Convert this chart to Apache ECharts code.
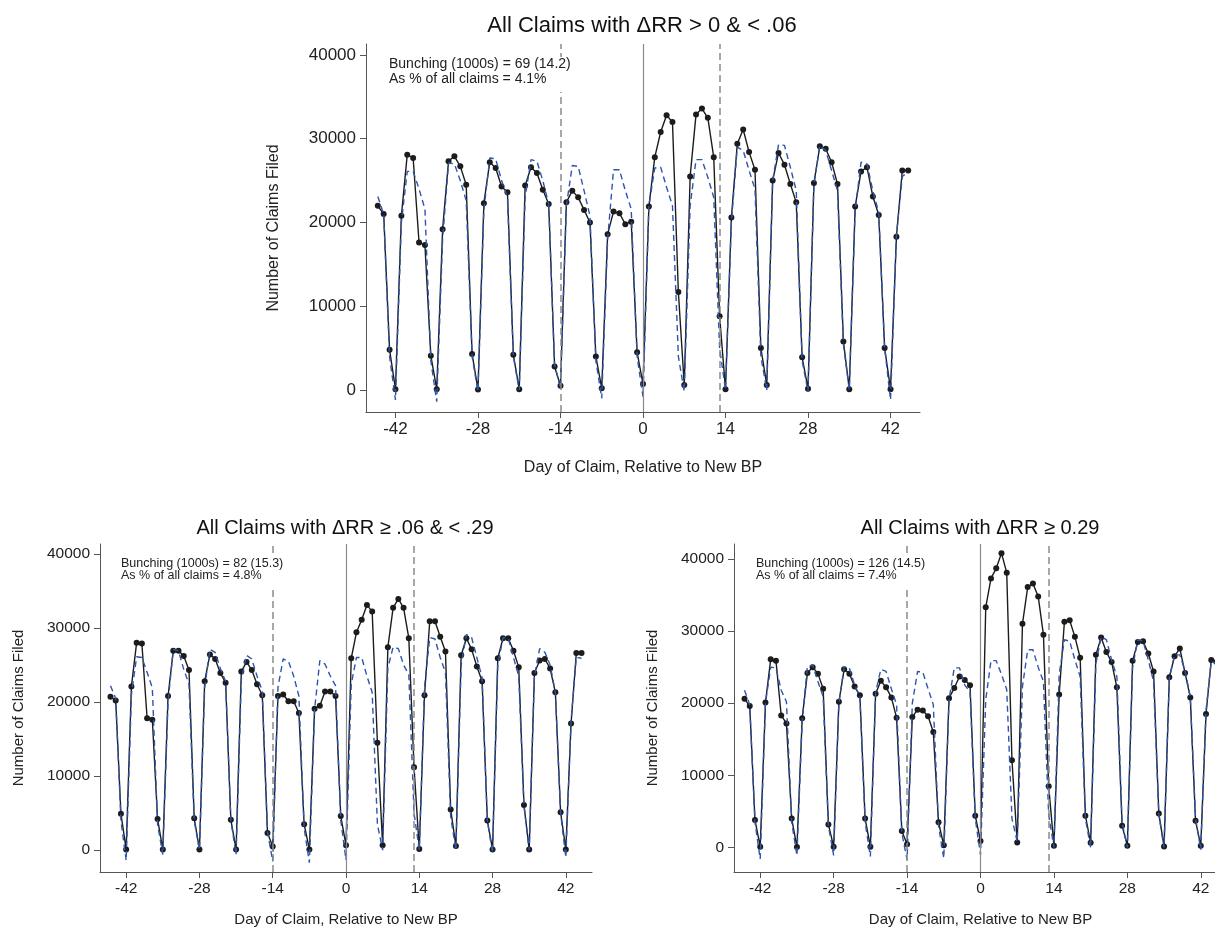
<!DOCTYPE html>
<html><head><meta charset="utf-8">
<script src="https://cdn.jsdelivr.net/npm/echarts@6/dist/echarts.min.js"></script>
<style>html,body{margin:0;padding:0;background:#fff}#c{width:1215px;height:929px}</style>
</head><body><div id="c"></div>
<script>
const days = [-45,-44,-43,-42,-41,-40,-39,-38,-37,-36,-35,-34,-33,-32,-31,-30,-29,-28,-27,-26,-25,-24,-23,-22,-21,-20,-19,-18,-17,-16,-15,-14,-13,-12,-11,-10,-9,-8,-7,-6,-5,-4,-3,-2,-1,0,1,2,3,4,5,6,7,8,9,10,11,12,13,14,15,16,17,18,19,20,21,22,23,24,25,26,27,28,29,30,31,32,33,34,35,36,37,38,39,40,41,42,43,44,45];
const xTicks = [-42,-28,-14,0,14,28,42];
const yTicks = [0,10000,20000,30000,40000];
const refLinesDashed = [-14,13];
const refLineSolid = [0];

const titleTexts = ['All Claims with \u0394RR > 0 & < .06', 'All Claims with \u0394RR \u2265 .06 & < .29', 'All Claims with \u0394RR \u2265 0.29'];
const noteTexts = [
  'Bunching (1000s) = 69 (14.2)\nAs % of all claims = 4.1%',
  'Bunching (1000s) = 82 (15.3)\nAs % of all claims = 4.8%',
  'Bunching (1000s) = 126 (14.5)\nAs % of all claims = 7.4%'
];
const xName = 'Day of Claim, Relative to New BP';
const yName = 'Number of Claims Filed';

// Panel A: dRR > 0 & < .06
const actualA = [22000,21000,4800,100,
 20800,28100,27700,17600,17300,4100,100,
 19200,27300,27900,26700,24500,4300,50,
 22300,27200,26500,24300,23600,4200,100,
 24400,26600,25900,23900,22200,2800,500,
 22400,23800,23000,21500,20000,4000,200,
 18600,21300,21100,19800,20100,4500,700,
 21900,27800,30800,32800,32000,11700,600,
 25500,32900,33600,32500,27800,8800,100,
 20600,29400,31100,28400,26300,5000,600,
 25000,28300,26900,24600,22400,3900,150,
 24700,29100,28800,27200,24600,5800,100,
 21900,26100,26600,23100,20900,5000,100,
 18300,26200,26200];
const predA = [23100,21000,4000,-1200,
 20000,26100,26100,24000,21600,3500,-1400,
 18000,27100,27000,25000,22600,4000,-200,
 21500,27700,27600,25000,23000,4000,0,
 23000,27500,27300,25000,22200,3000,200,
 22000,26800,26700,23800,20800,3500,-1000,
 18000,26300,26300,23800,21600,4000,-800,
 22000,26500,26600,24200,22000,4000,-200,
 22000,27500,27500,25400,23000,5000,0,
 20000,29000,28600,26200,24000,4000,0,
 25000,29300,29200,26600,23800,3500,-200,
 24500,29200,28600,26200,23800,5500,0,
 21500,27200,27000,23800,21200,5000,-1200,
 18500,25500,26000];

// Panel B: dRR >= .06 & < .29
const actualB = [20700,20200,4900,100,
 22100,28000,27900,17800,17600,4200,100,
 20800,26900,26900,26200,24300,4300,100,
 22800,26400,25800,23900,22600,4100,100,
 24100,25400,24300,22400,20900,2300,500,
 20800,21000,20100,20100,18500,3500,100,
 19100,19500,21400,21400,20800,4600,650,
 25900,29400,31100,33100,32200,14500,650,
 27400,32700,33900,32700,28600,11200,150,
 20900,30900,30900,28800,26800,5500,550,
 26300,28600,27100,24800,22800,4000,100,
 25900,28600,28600,26900,24700,6100,100,
 23900,25600,25800,24500,21300,5100,100,
 17100,26600,26600];
const predB = [22200,20500,4000,-1400,
 21000,26100,26000,24000,21900,3500,-600,
 20000,27100,26900,24400,22400,4000,0,
 22000,27100,26700,24500,22800,4000,-600,
 23000,26300,25800,23500,21500,2500,-1500,
 22000,25800,25500,23500,20800,3000,-1700,
 19000,25600,25100,23500,22200,4000,-1300,
 22400,26000,26000,23500,21300,3500,0,
 24600,27400,27200,25000,23700,5000,0,
 22000,28700,28500,26000,24000,4500,0,
 25000,29100,28700,26000,23300,4000,-400,
 25000,28700,28600,26000,23500,6000,0,
 23500,27200,26700,25000,21300,5000,-1000,
 17500,26000,25900];

// Panel C: dRR >= 0.29
const actualC = [20600,19600,3800,100,
 20100,26100,25900,18300,17200,4000,50,
 17900,24200,25000,24100,22000,3200,100,
 20200,24700,24100,22300,21100,4000,100,
 21300,23100,22200,20800,18000,2300,450,
 18100,19100,19000,18200,16000,3500,300,
 20700,22100,23700,23200,22500,4400,900,
 33300,37300,38700,40800,38100,12100,700,
 31000,36100,36600,34800,29500,8500,250,
 21200,31300,31500,29200,26300,4400,650,
 26700,29100,27100,25700,22200,3000,250,
 25900,28500,28600,26900,24400,4700,150,
 23600,26500,27600,24200,20800,3700,250,
 18500,26000,25700];
const predC = [21800,19800,3500,-1600,
 20000,25000,24900,21800,20200,3500,-1150,
 17500,25100,25300,23000,20900,3000,-1100,
 20000,25000,24850,22500,20900,3500,-1250,
 21500,24700,24400,22000,19800,2000,-1700,
 20000,24400,24300,22000,19800,3000,-1500,
 20500,24900,24900,22500,21600,4000,-1000,
 20500,25900,25900,24000,21900,4000,800,
 22300,27400,27400,25000,23000,4500,0,
 24000,28800,28600,26000,23700,4000,0,
 25500,29200,28800,26000,23700,3500,0,
 25000,28800,28600,26000,23000,4500,0,
 23500,26700,26700,24500,20900,4000,-300,
 19000,25800,25500];

const actuals = [actualA, actualB, actualC];
const preds = [predA, predB, predC];

// layout (pixels)
const panels = [
  {left:366, top:44, width:554, height:368, ymin:-2630, ymax:41310, tickFont:17, nameFont:16, titleFont:22, titleX:642, titleY:26, noteX:389, noteY:57, noteFont:14, noteLH:14.5, notePadB:6, xNameGap:48, yNameGap:84},
  {left:100, top:544, width:492, height:328, ymin:-2950, ymax:41320, tickFont:15.5, nameFont:15, titleFont:20, titleX:345, titleY:528, noteX:121, noteY:557, noteFont:12.5, noteLH:12.5, notePadB:7, xNameGap:40, yNameGap:74},
  {left:734, top:544, width:493, height:328, ymin:-3400, ymax:42070, tickFont:15.5, nameFont:15, titleFont:20, titleX:980, titleY:528, noteX:756, noteY:557, noteFont:12.5, noteLH:12.5, notePadB:7, xNameGap:40, yNameGap:74}
];

const FONT = "'Liberation Sans', Arial, sans-serif";
const AXIS_COLOR = '#555555';
const TEXT_COLOR = '#222222';
const BLACK = '#1c1c1c';
const BLUE = '#2d55ad';
const REF = '#8a8a8a';
const plain = v => String(v);

const grid = [], xAxis = [], yAxis = [], series = [], graphic = [];
panels.forEach((p, i) => {
  grid.push({left:p.left, top:p.top, width:p.width, height:p.height, outerBoundsMode:'none', containLabel:false});
  xAxis.push({
    type:'value', gridIndex:i, min:-47, max:47,
    name:xName, nameLocation:'middle', nameGap:p.xNameGap,
    nameTextStyle:{fontFamily:FONT, fontSize:p.nameFont, color:TEXT_COLOR},
    axisLine:{onZero:false, lineStyle:{color:AXIS_COLOR, width:1}},
    axisTick:{show:true, customValues:xTicks, length:6, lineStyle:{color:AXIS_COLOR}},
    axisLabel:{customValues:xTicks, formatter:plain, fontFamily:FONT, fontSize:p.tickFont, color:TEXT_COLOR, margin:9},
    splitLine:{show:false}
  });
  yAxis.push({
    type:'value', gridIndex:i, min:p.ymin, max:p.ymax,
    name:yName, nameLocation:'middle', nameGap:p.yNameGap,
    nameTextStyle:{fontFamily:FONT, fontSize:p.nameFont, color:TEXT_COLOR},
    axisLine:{show:true, onZero:false, lineStyle:{color:AXIS_COLOR, width:1}},
    axisTick:{show:true, customValues:yTicks, length:6, lineStyle:{color:AXIS_COLOR}},
    axisLabel:{customValues:yTicks, formatter:plain, fontFamily:FONT, fontSize:p.tickFont, color:TEXT_COLOR, margin:10},
    splitLine:{show:false}
  });
  const black = days.map((d, k) => [d, actuals[i][k]]);
  const blue = days.map((d, k) => [d, preds[i][k]]);
  series.push({
    type:'line', xAxisIndex:i, yAxisIndex:i, data:black, symbol:'none', silent:true,
    lineStyle:{opacity:0}, z:1,
    markLine:{
      silent:true, symbol:['none','none'], label:{show:false}, animation:false,
      data:[
        ...refLinesDashed.map(v => ({xAxis:v, lineStyle:{color:REF, width:1.5, type:[7,4]}})),
        ...refLineSolid.map(v => ({xAxis:v, lineStyle:{color:REF, width:1.2, type:'solid'}}))
      ]
    }
  });
  series.push({
    type:'line', xAxisIndex:i, yAxisIndex:i, data:black,
    symbol:'circle', symbolSize:6, itemStyle:{color:BLACK},
    lineStyle:{color:BLACK, width:1.4}, z:3
  });
  series.push({
    type:'line', xAxisIndex:i, yAxisIndex:i, data:blue,
    symbol:'none', lineStyle:{color:BLUE, width:1.4, type:[6,4]}, z:4
  });
  graphic.push({
    type:'text', x:p.titleX, y:p.titleY, z:10,
    style:{text:titleTexts[i], font:`${p.titleFont}px ${FONT}`, fill:'#111', textAlign:'center', textVerticalAlign:'middle'}
  });
  graphic.push({
    type:'text', x:p.noteX - 4, y:p.noteY, z:10,
    style:{text:noteTexts[i], font:`${p.noteFont}px ${FONT}`, fill:'#222', lineHeight:p.noteLH,
      backgroundColor:'#ffffff', padding:[0,6,p.notePadB,4], textAlign:'left', textVerticalAlign:'top'}
  });
});

const chart = echarts.init(document.getElementById('c'), null, {renderer:'canvas'});
chart.setOption({animation:false, backgroundColor:'#ffffff', grid, xAxis, yAxis, series, graphic});
</script>
</body></html>
